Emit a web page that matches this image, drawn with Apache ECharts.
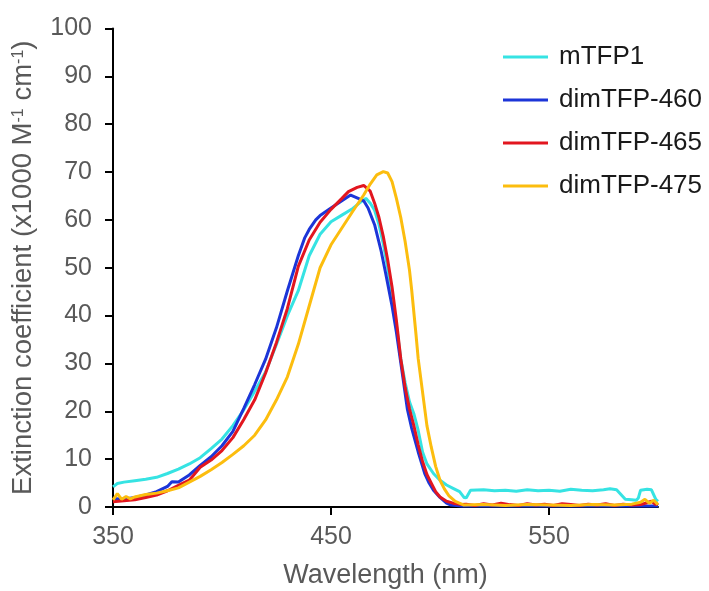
<!DOCTYPE html>
<html>
<head>
<meta charset="utf-8">
<script src="https://cdn.jsdelivr.net/npm/echarts@6/dist/echarts.min.js"></script>
<style>
  html, body { margin: 0; padding: 0; background: #fff; }
  #chart { width: 709px; height: 591px; }
</style>
</head>
<body>
<div id="chart"></div>
<script>
// Absorption spectra: [wavelength (nm), extinction coefficient (x1000 M^-1 cm^-1)]
const seriesNames = ['mTFP1', 'dimTFP-460', 'dimTFP-465', 'dimTFP-475'];
const seriesColors = ['#36E3E3', '#1C35D8', '#E2161F', '#FCBD0E'];

const mTFP1 = [
  [350, 4.2], [352, 4.9], [355, 5.2], [360, 5.5], [365, 5.8], [370, 6.2], [375, 7.0],
  [380, 7.9], [385, 9.0], [390, 10.3], [395, 12.2], [400, 14.2], [405, 17.0], [410, 20.3],
  [415, 24.2], [420, 28.2], [425, 34.0], [430, 40.0], [435, 45.2], [440, 52.5], [445, 57.0],
  [450, 59.6], [455, 61.0], [460, 62.4], [463, 63.5], [466, 64.5], [468, 63.5], [470, 62.0],
  [472, 59.0], [474, 55.0], [476, 50.0], [478, 44.0], [480, 38.0], [482, 31.0], [484, 26.0],
  [486, 22.0], [488, 19.5], [490, 16.0], [492, 11.5], [494, 9.0], [497, 7.0], [500, 5.6],
  [503, 4.6], [506, 3.9], [509, 3.2], [511, 2.0], [512, 1.9], [514, 3.5], [520, 3.6],
  [525, 3.4], [530, 3.5], [535, 3.3], [540, 3.6], [545, 3.4], [550, 3.5], [555, 3.3],
  [560, 3.7], [565, 3.5], [570, 3.4], [575, 3.6], [578, 3.8], [581, 3.6], [583, 2.6],
  [585, 1.6], [588, 1.5], [590, 1.4], [591, 1.9], [592, 3.5], [595, 3.7], [597, 3.6],
  [599, 1.6], [600, 1.2]
];

const dimTFP460 = [
  [350, 1.8], [355, 1.6], [360, 2.0], [365, 2.5], [370, 3.2], [375, 4.3], [377, 5.3],
  [380, 5.2], [385, 6.7], [390, 8.7], [395, 10.5], [400, 12.8], [405, 15.8], [410, 20.6],
  [415, 25.6], [420, 30.9], [425, 37.5], [430, 45.2], [435, 52.5], [438, 56.3], [440, 58.0],
  [443, 60.0], [445, 60.9], [450, 62.5], [455, 64.0], [459, 65.2], [463, 64.4], [465, 64.0],
  [467, 62.5], [470, 59.0], [473, 53.5], [475, 49.0], [478, 42.0], [480, 36.5], [483, 27.0],
  [485, 20.5], [487, 16.5], [490, 11.5], [493, 7.0], [495, 5.0], [497, 3.5], [500, 2.0],
  [503, 0.8], [505, 0.4], [510, 0.2], [530, 0.2], [560, 0.2], [600, 0.2]
];

const dimTFP465 = [
  [350, 1.1], [355, 1.3], [360, 1.5], [365, 2.0], [370, 2.5], [375, 3.4], [380, 4.5],
  [385, 5.6], [390, 8.3], [395, 9.8], [400, 11.8], [405, 14.5], [410, 18.3], [415, 22.4],
  [420, 28.0], [425, 34.4], [430, 41.5], [435, 50.3], [440, 55.8], [445, 59.5], [450, 62.2],
  [455, 64.5], [458, 65.9], [462, 66.8], [465, 67.2], [468, 66.0], [470, 63.5], [472, 60.5],
  [474, 56.5], [476, 51.6], [478, 46.0], [480, 39.0], [482, 31.0], [484, 25.0], [486, 20.5],
  [488, 17.0], [490, 13.0], [492, 9.5], [494, 6.8], [496, 5.0], [498, 3.2], [500, 2.1],
  [503, 1.2], [506, 0.8], [510, 0.5], [512, 0.6], [516, 0.3], [520, 0.7], [524, 0.4],
  [528, 0.8], [532, 0.5], [536, 0.3], [540, 0.7], [544, 0.4], [548, 0.6], [552, 0.3],
  [556, 0.7], [560, 0.5], [564, 0.3], [568, 0.6], [572, 0.4], [576, 0.7], [580, 0.3],
  [584, 0.6], [588, 0.4], [592, 0.5], [595, 0.9], [597, 1.2], [599, 0.5], [600, 0.8]
];

const dimTFP475 = [
  [350, 1.5], [352, 2.8], [354, 1.6], [356, 2.2], [358, 1.7], [360, 2.1], [365, 2.6],
  [370, 2.9], [375, 3.4], [380, 4.0], [385, 5.2], [390, 6.4], [395, 7.8], [400, 9.3],
  [405, 11.0], [410, 12.8], [415, 15.0], [420, 18.2], [425, 22.4], [430, 27.2], [435, 34.0],
  [440, 42.0], [445, 50.0], [450, 54.8], [455, 58.3], [460, 61.8], [465, 65.2], [468, 67.5],
  [471, 69.4], [474, 70.1], [476, 69.8], [478, 68.0], [480, 64.5], [482, 60.5], [484, 55.5],
  [486, 49.5], [487, 45.4], [489, 36.0], [490, 31.0], [492, 24.0], [494, 17.0], [496, 12.5],
  [498, 8.5], [500, 5.6], [502, 3.8], [504, 2.4], [507, 1.2], [511, 0.4], [520, 0.5],
  [530, 0.3], [540, 0.5], [550, 0.4], [560, 0.3], [570, 0.5], [580, 0.4], [588, 0.6],
  [592, 1.0], [594, 1.6], [596, 0.8], [598, 1.4], [600, 0.5]
];

const seriesData = [mTFP1, dimTFP460, dimTFP465, dimTFP475];

const xTickValues = [350, 450, 550];
const yTicks = { min: 0, max: 100, interval: 10 };

const FONT = "'Liberation Sans', Arial, sans-serif";
const GREY = '#595959';

const chart = echarts.init(document.getElementById('chart'), null, { renderer: 'canvas' });

chart.setOption({
  animation: false,
  backgroundColor: '#ffffff',
  grid: { left: 113, right: 51, top: 28.5, bottom: 84, containLabel: false, outerBoundsMode: 'none' },
  legend: {
    orient: 'vertical',
    left: 498,
    top: 39,
    itemWidth: 45,
    itemHeight: 14,
    itemGap: 17,
    icon: 'path://M0,5.5 L45,5.5 L45,8.5 L0,8.5 Z',
    data: seriesNames,
    textStyle: {
      fontFamily: FONT,
      fontSize: 26,
      color: '#1a1a1a',
      padding: [0, 0, 0, 6]
    }
  },
  xAxis: {
    type: 'value',
    min: 350,
    max: 600,
    interval: 50,
    name: 'Wavelength (nm)',
    nameLocation: 'middle',
    nameGap: 55,
    nameTextStyle: { fontFamily: FONT, fontSize: 27, color: GREY },
    axisLine: { show: true, lineStyle: { color: '#000', width: 2 } },
    axisTick: { show: true, length: 8, lineStyle: { color: '#000', width: 2 }, customValues: xTickValues },
    axisLabel: { fontFamily: FONT, fontSize: 25, color: GREY, margin: 18, customValues: xTickValues },
    splitLine: { show: false }
  },
  yAxis: {
    type: 'value',
    min: yTicks.min,
    max: yTicks.max,
    interval: yTicks.interval,
    name: '{n|Extinction coefficient (x1000 M}{s|-1}{n| cm}{s|-1}{n|)}',
    nameLocation: 'middle',
    nameRotate: 90,
    nameGap: 74,
    nameTextStyle: {
      rich: {
        n: { fontFamily: FONT, fontSize: 27.5, color: GREY, lineHeight: 31, verticalAlign: 'middle' },
        s: { fontFamily: FONT, fontSize: 16, color: GREY, lineHeight: 31, verticalAlign: 'top', padding: [3, 0, 0, 0] }
      }
    },
    axisLine: { show: true, lineStyle: { color: '#000', width: 2 } },
    axisTick: { show: true, length: 8, lineStyle: { color: '#000', width: 2 } },
    axisLabel: { fontFamily: FONT, fontSize: 25, color: GREY, margin: 21 },
    splitLine: { show: false }
  },
  series: seriesNames.map((name, i) => ({
    name: name,
    type: 'line',
    data: seriesData[i],
    symbol: 'none',
    showSymbol: false,
    smooth: false,
    color: seriesColors[i],
    lineStyle: { width: 3, color: seriesColors[i] },
    z: 2 + i
  }))
});
</script>
</body>
</html>
